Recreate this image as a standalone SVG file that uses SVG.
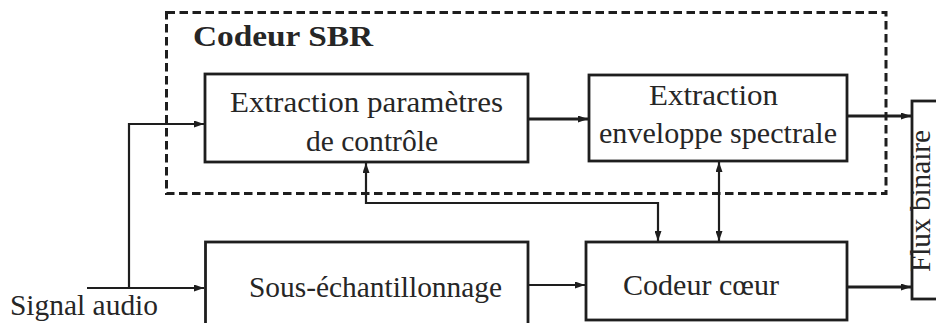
<svg xmlns="http://www.w3.org/2000/svg" width="936" height="323" viewBox="0 0 936 323">
<style>
.box{fill:#fff;stroke:#1e1e1e;stroke-width:2.8}
.dash{fill:none;stroke:#1e1e1e;stroke-width:3;stroke-dasharray:8.5,4.5}
.lbl{font-family:'Liberation Serif',serif;font-size:29px;fill:#262626}
.bold{font-family:'Liberation Serif',serif;font-size:30px;font-weight:bold;fill:#262626}
.c{fill:none;stroke:#1e1e1e;stroke-width:2.2}
.ct{fill:none;stroke:#1e1e1e;stroke-width:2.8}
</style>
<defs>
<marker id="ah" markerUnits="userSpaceOnUse" markerWidth="10" markerHeight="7" refX="10" refY="3.5" orient="auto-start-reverse">
<path d="M0,0 L10,3.5 L0,7 z" fill="#1e1e1e"/>
</marker>
</defs>
<rect width="936" height="323" fill="#fff"/>
<g id="sbr">
<rect class="dash" x="166.5" y="12.5" width="719.5" height="181"/>
<text class="bold" x="193" y="46" textLength="180" lengthAdjust="spacingAndGlyphs">Codeur SBR</text>
</g>
<g id="n1">
<rect class="box" x="205" y="74" width="323" height="88"/>
<text class="lbl" x="230" y="112" textLength="273" lengthAdjust="spacingAndGlyphs">Extraction paramètres</text>
<text class="lbl" x="306" y="151" textLength="132" lengthAdjust="spacingAndGlyphs">de contrôle</text>
</g>
<g id="n2">
<rect class="box" x="589" y="75" width="258" height="86"/>
<text class="lbl" x="649" y="105" textLength="129" lengthAdjust="spacingAndGlyphs">Extraction</text>
<text class="lbl" x="599" y="143" textLength="238" lengthAdjust="spacingAndGlyphs">enveloppe spectrale</text>
</g>
<g id="n3">
<rect class="box" x="205.5" y="242" width="322.5" height="100"/>
<text class="lbl" x="249" y="297" textLength="253" lengthAdjust="spacingAndGlyphs">Sous-échantillonnage</text>
</g>
<g id="n4">
<rect class="box" x="586" y="242" width="261" height="78"/>
<text class="lbl" x="623" y="295" textLength="156" lengthAdjust="spacingAndGlyphs">Codeur cœur</text>
</g>
<g id="n5">
<rect class="box" x="912" y="101" width="40" height="198"/>
<text class="lbl" transform="translate(930,272) rotate(-90)" x="0" y="0" font-size="27" textLength="142" lengthAdjust="spacingAndGlyphs">Flux binaire</text>
</g>
<g id="signal">
<text class="lbl" x="10" y="315" textLength="148" lengthAdjust="spacingAndGlyphs">Signal audio</text>
</g>
<g id="connectors">
<path class="c" d="M87,288 H204" marker-end="url(#ah)"/>
<path class="c" d="M129,288 V124 H204" marker-end="url(#ah)"/>
<path class="ct" d="M528,119 H588" marker-end="url(#ah)"/>
<path class="ct" d="M847,116 H911" marker-end="url(#ah)"/>
<path class="c" d="M528,285 H585" marker-end="url(#ah)"/>
<path class="ct" d="M847,287 H911" marker-end="url(#ah)"/>
<path class="c" d="M366,163 V203 H658 V241" marker-start="url(#ah)" marker-end="url(#ah)"/>
<path class="c" d="M719,162 V241" marker-start="url(#ah)" marker-end="url(#ah)"/>
</g>
</svg>
